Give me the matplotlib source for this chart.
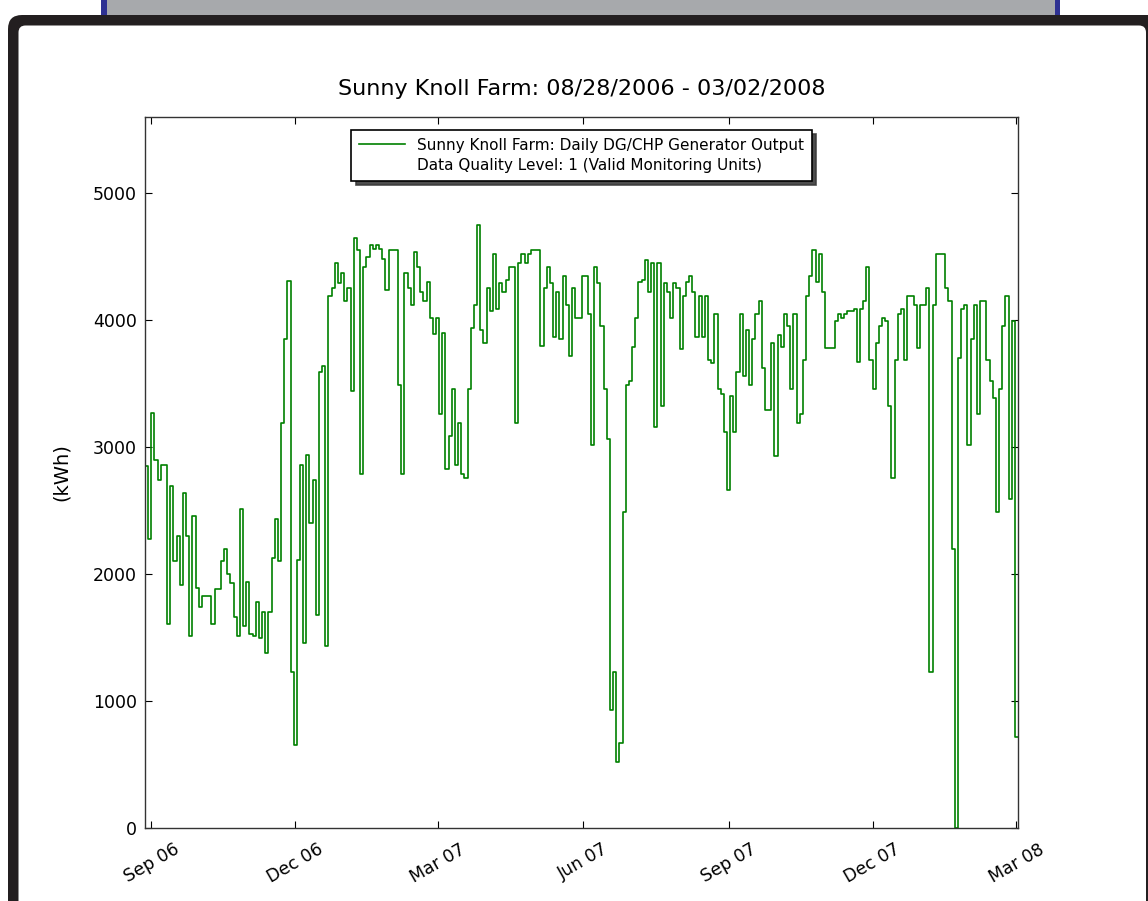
import matplotlib
matplotlib.use("Agg")
import matplotlib.pyplot as plt
import matplotlib.dates as mdates
from matplotlib.patches import Rectangle, FancyBboxPatch
from matplotlib.transforms import IdentityTransform
from matplotlib.lines import Line2D
import pandas as pd

# ---------------- data ----------------
title = "Sunny Knoll Farm: 08/28/2006 - 03/02/2008"
series_label_1 = "Sunny Knoll Farm: Daily DG/CHP Generator Output"
series_label_2 = "Data Quality Level: 1 (Valid Monitoring Units)"
y_label = "(kWh)"
start_date = "2006-08-28"
end_date = "2008-03-02"
step_days = 2
y_ticks = [0, 1000, 2000, 3000, 4000, 5000]
y_max = 5600

output_kwh = [
    1700, 2850, 2280, 3270, 2900, 2740, 2860, 2860, 1610, 2690,
    2100, 2300, 1910, 2640, 2300, 1510, 2460, 1890, 1740, 1830,
    1830, 1830, 1610, 1880, 1880, 2100, 2200, 2000, 1930, 1660,
    1510, 2510, 1590, 1940, 1530, 1510, 1780, 1500, 1700, 1380,
    1700, 2130, 2430, 2100, 3190, 3850, 4310, 1230, 650, 2110,
    2860, 1460, 2940, 2400, 2740, 1680, 3590, 3640, 1430, 4190,
    4250, 4450, 4290, 4370, 4150, 4250, 3440, 4650, 4550, 2790,
    4420, 4500, 4590, 4560, 4590, 4560, 4480, 4240, 4550, 4550,
    4550, 3490, 2790, 4370, 4250, 4120, 4540, 4420, 4220, 4150,
    4300, 4020, 3890, 4020, 3260, 3900, 2830, 3090, 3460, 2860,
    3190, 2790, 2760, 3460, 3940, 4120, 4750, 3920, 3820, 4250,
    4070, 4520, 4090, 4290, 4220, 4320, 4420, 4420, 3190, 4450,
    4520, 4450, 4520, 4550, 4550, 4550, 3800, 4250, 4420, 4290,
    3870, 4220, 3850, 4350, 4120, 3720, 4250, 4020, 4020, 4350,
    4350, 4050, 3020, 4420, 4290, 3950, 3460, 3060, 930, 1230,
    520, 670, 2490, 3490, 3520, 3790, 4020, 4300, 4320, 4470,
    4220, 4450, 3160, 4450, 3320, 4290, 4220, 4020, 4290, 4250,
    3770, 4190, 4300, 4350, 4220, 3870, 4190, 3870, 4190, 3690,
    3660, 4050, 3460, 3420, 3120, 2660, 3400, 3120, 3590, 4050,
    3560, 3920, 3490, 3850, 4050, 4150, 3620, 3290, 3290, 3820,
    2930, 3880, 3790, 4050, 3950, 3460, 4050, 3190, 3260, 3690,
    4190, 4350, 4550, 4300, 4520, 4220, 3780, 3780, 3780, 3990,
    4050, 4020, 4050, 4070, 4070, 4090, 3670, 4090, 4150, 4420,
    3690, 3460, 3820, 3950, 4020, 3990, 3320, 2760, 3690, 4050,
    4090, 3690, 4190, 4190, 4120, 3780, 4120, 4120, 4250, 1230,
    4120, 4520, 4520, 4520, 4250, 4150, 2200, 0, 3700, 4090,
    4120, 3020, 3850, 4120, 3260, 4150, 4150, 3690, 3520, 3390,
    2490, 3460, 3950, 4190, 2590, 3990, 720,
]

dates = pd.date_range(start_date, periods=len(output_kwh), freq=f"{step_days}D")

# ---------------- figure ----------------
W, H = 1148, 901
fig = plt.figure(figsize=(W / 100, H / 100), dpi=100)
fig.patch.set_facecolor("white")
ident = IdentityTransform()

# screenshot decorations (top grey bar with blue edges, black rounded frame)
fig.add_artist(Rectangle((101, H - 16), 959, 20, transform=ident,
                         facecolor="#2e3192", edgecolor="none", zorder=-10))
fig.add_artist(Rectangle((107, H - 16), 948, 20, transform=ident,
                         facecolor="#a7a9ac", edgecolor="none", zorder=-9))
fig.add_artist(FancyBboxPatch((8, -60), 1250, H - 15 + 60, transform=ident,
                              boxstyle="round,pad=0,rounding_size=14",
                              facecolor="#231f20", edgecolor="none", zorder=-8))
fig.add_artist(FancyBboxPatch((18.5, -60), 1146 - 18.5, H - 25.5 + 60, transform=ident,
                              boxstyle="round,pad=0,rounding_size=7",
                              facecolor="white", edgecolor="none", zorder=-7))

ax = fig.add_axes([145 / W, 1 - 828 / H, (1018 - 145) / W, (828 - 117) / H])
ax.plot(dates, output_kwh, color="#008000", lw=1.2, drawstyle="steps-pre")

ax.set_xlim(pd.Timestamp(start_date), pd.Timestamp(end_date))
ax.set_ylim(0, y_max)
ax.set_yticks(y_ticks)
ax.xaxis.set_major_locator(mdates.MonthLocator(bymonth=[3, 6, 9, 12]))
ax.xaxis.set_major_formatter(mdates.DateFormatter("%b %y"))
ax.tick_params(direction="in", top=True, right=True, length=5, width=0.8,
               labelsize=12.5, colors="black", pad=6)
ax.tick_params(axis="x", pad=9)
for lbl in ax.get_xticklabels():
    lbl.set_rotation(30)
    lbl.set_ha("center")
for sp in ax.spines.values():
    sp.set_color("#333333")
    sp.set_linewidth(1.0)

ax.set_title(title, fontsize=16, pad=16)
ax.set_ylabel(y_label, fontsize=14, labelpad=16)

h1 = Line2D([], [], color="#008000", lw=1.2)
h2 = Line2D([], [], color="none")
leg = ax.legend([h1, h2], [series_label_1, series_label_2], loc="upper center",
                fontsize=11, handlelength=3.0, handletextpad=0.8, labelspacing=0.35,
                borderaxespad=0.85, borderpad=0.5, fancybox=False, framealpha=1,
                shadow={"ox": 3, "oy": -3, "color": "#3a3a3a", "alpha": 0.9})
leg.get_frame().set_edgecolor("black")
leg.get_frame().set_linewidth(1.2)

fig.savefig("out.png", dpi=100)
